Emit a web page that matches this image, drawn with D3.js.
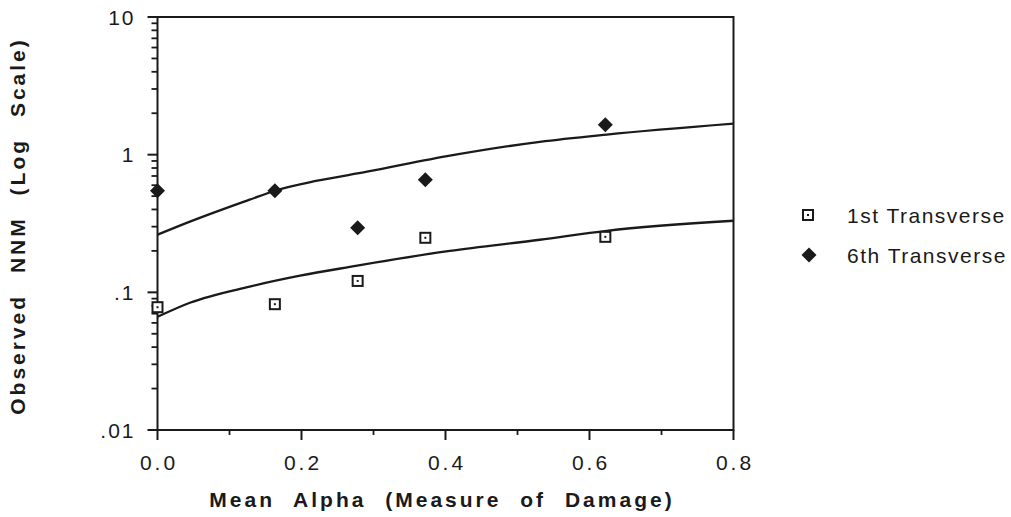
<!DOCTYPE html>
<html>
<head>
<meta charset="utf-8">
<script src="https://cdn.jsdelivr.net/npm/d3@7"></script>
<style>
  body { margin: 0; background: #fff; }
  svg { display: block; font-family: "Liberation Sans", Arial, Helvetica, sans-serif; }
</style>
</head>
<body>
<svg id="chart" width="1011" height="517"></svg>
<script>
// Data
const alpha = [0.0, 0.163, 0.278, 0.372, 0.622];
const firstTransverse = [0.078, 0.082, 0.121, 0.249, 0.253];
const sixthTransverse = [0.547, 0.547, 0.294, 0.658, 1.65];

// fitted curves (traced)
const upperX = [0, 0.045, 0.128, 0.163, 0.222, 0.291, 0.406, 0.531, 0.624, 0.8];
const upperY = [0.262, 0.326, 0.471, 0.547, 0.647, 0.752, 0.983, 1.24, 1.40, 1.68];
const lowerX = [0, 0.045, 0.128, 0.198, 0.267, 0.406, 0.531, 0.624, 0.8];
const lowerY = [0.0664, 0.084, 0.110, 0.132, 0.153, 0.200, 0.241, 0.280, 0.331];

const xTicks = [0, 0.2, 0.4, 0.6, 0.8];
const xMinor = [0.1, 0.3, 0.5, 0.7];
const yTicks = [10, 1, 0.1, 0.01];
const yTickLabels = ['10', '1', '.1', '.01'];
const seriesNames = ['1st Transverse', '6th Transverse'];

const svg = d3.select('#chart');
const margin = { left: 157.5, top: 17 };
const width = 576, height = 413;
const g = svg.append('g').attr('transform', `translate(${margin.left},${margin.top})`);

const x = d3.scaleLinear().domain([0, 0.8]).range([0, width]);
const y = d3.scaleLog().domain([0.01, 10]).range([height, 0]);

const ink = '#1a1a1a';

// frame
g.append('rect')
  .attr('width', width).attr('height', height)
  .attr('fill', 'none').attr('stroke', ink).attr('stroke-width', 2);

// y ticks (major + minor)
const yMinor = [];
[0.01, 0.1, 1].forEach(d => { for (let k = 2; k <= 9; k++) yMinor.push(d * k); });
g.append('g').selectAll('line').data(yMinor).join('line')
  .attr('x1', -6).attr('x2', 0)
  .attr('y1', d => y(d)).attr('y2', d => y(d))
  .attr('stroke', ink).attr('stroke-width', 1.8);
g.append('g').selectAll('line').data(yTicks).join('line')
  .attr('x1', -10).attr('x2', 0)
  .attr('y1', d => y(d)).attr('y2', d => y(d))
  .attr('stroke', ink).attr('stroke-width', 2);
g.append('g').selectAll('text').data(yTicks).join('text')
  .attr('x', -22).attr('y', d => y(d))
  .attr('dy', '0.36em')
  .attr('text-anchor', 'end')
  .style('font-size', '21px').style('letter-spacing', '2px')
  .attr('fill', ink)
  .text((d, i) => yTickLabels[i]);

// x ticks
g.append('g').selectAll('line').data(xMinor).join('line')
  .attr('x1', d => x(d)).attr('x2', d => x(d))
  .attr('y1', height).attr('y2', height + 5)
  .attr('stroke', ink).attr('stroke-width', 1.8);
g.append('g').selectAll('line').data(xTicks).join('line')
  .attr('x1', d => x(d)).attr('x2', d => x(d))
  .attr('y1', height).attr('y2', height + 10)
  .attr('stroke', ink).attr('stroke-width', 2);
g.append('g').selectAll('text').data(xTicks).join('text')
  .attr('x', d => x(d) + 1.5).attr('y', 470 - margin.top)
  .attr('text-anchor', 'middle')
  .style('font-size', '21px').style('letter-spacing', '3px')
  .attr('fill', ink)
  .text(d => d.toFixed(1));

// curves
const line = d3.line().x(d => x(d[0])).y(d => y(d[1])).curve(d3.curveMonotoneX);
[[upperX, upperY], [lowerX, lowerY]].forEach(([xs, ys]) => {
  g.append('path')
    .datum(xs.map((v, i) => [v, ys[i]]))
    .attr('d', line)
    .attr('fill', 'none').attr('stroke', ink).attr('stroke-width', 2.3);
});

// markers
function drawSquare(sel, cx, cy) {
  sel.append('rect')
    .attr('x', cx - 5).attr('y', cy - 5).attr('width', 10).attr('height', 10)
    .attr('fill', '#fff').attr('stroke', ink).attr('stroke-width', 2);
  sel.append('rect')
    .attr('x', cx - 1).attr('y', cy - 1).attr('width', 2).attr('height', 2)
    .attr('fill', ink);
}
function drawDiamond(sel, cx, cy) {
  sel.append('path')
    .attr('d', `M${cx},${cy - 7.5}L${cx + 7.5},${cy}L${cx},${cy + 7.5}L${cx - 7.5},${cy}Z`)
    .attr('fill', ink);
}

alpha.forEach((a, i) => drawSquare(g, x(a), y(firstTransverse[i])));
alpha.forEach((a, i) => drawDiamond(g, x(a), y(sixthTransverse[i])));

// axis titles
svg.append('text')
  .attr('x', 442).attr('y', 507)
  .attr('text-anchor', 'middle')
  .style('font-size', '21px').style('font-weight', 'bold')
  .style('letter-spacing', '3px').style('word-spacing', '10px')
  .attr('fill', ink)
  .text('Mean Alpha (Measure of Damage)');

svg.append('text')
  .attr('transform', 'translate(25,226) rotate(-90)')
  .attr('text-anchor', 'middle')
  .style('font-size', '21px').style('font-weight', 'bold')
  .style('letter-spacing', '3px').style('word-spacing', '12px')
  .attr('fill', ink)
  .text('Observed NNM (Log Scale)');

// legend
const legend = svg.append('g');
const legendY = [215, 255];
drawSquare(legend, 808, legendY[0]);
drawDiamond(legend, 809, legendY[1]);
legend.selectAll('text').data(seriesNames).join('text')
  .attr('x', 847).attr('y', (d, i) => legendY[i])
  .attr('dy', '0.36em')
  .style('font-size', '21px').style('letter-spacing', '1.5px')
  .attr('fill', ink)
  .text(d => d);
</script>
</body>
</html>
